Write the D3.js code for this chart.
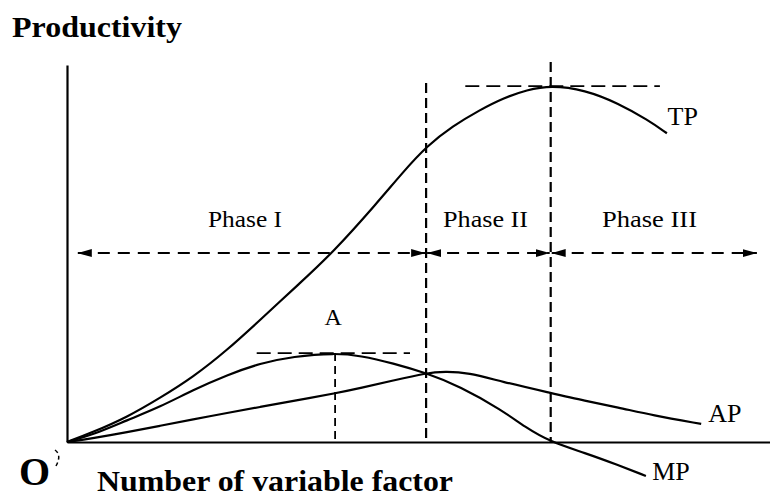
<!DOCTYPE html>
<html><head><meta charset="utf-8">
<script src="https://cdn.jsdelivr.net/npm/d3@7"></script>
<style>
html,body{margin:0;padding:0;background:#fff;}
svg{display:block;}
text{font-family:"Liberation Serif","Times New Roman",serif;fill:#000;}
</style></head>
<body>
<svg id="c" width="770" height="497"></svg>
<script>
// ---- data (x = units of variable factor, y = productivity) ----
const tpX = [0, 0.37, 0.86, 1.33, 1.80, 2.29, 2.76, 3.33, 3.79, 4.43, 4.80, 5.14, 5.51, 5.90, 6.23, 6.57, 6.91, 7.40, 7.87, 8.30, 8.57];
const tpY = [0, 2.6, 6.6, 11.7, 17.2, 24.4, 32.4, 42.2, 50.1, 63.4, 71.6, 78.5, 83.8, 88.1, 91.2, 93.4, 94.6, 93.4, 89.9, 85.4, 81.9];

const mpX = [0, 0.37, 0.86, 1.33, 1.80, 2.29, 2.76, 3.23, 3.83, 4.19, 4.66, 5.13, 5.61, 6.21, 6.54, 6.91, 7.40, 7.87, 8.27];
const mpY = [0, 1.9, 5.8, 9.3, 13.8, 17.8, 20.9, 22.7, 23.6, 22.9, 20.9, 18.3, 14.8, 8.5, 4.0, 0, -2.9, -6.1, -9.0];

const apX = [0, 0.37, 0.86, 1.33, 1.80, 2.29, 2.76, 3.23, 3.86, 4.19, 4.66, 5.13, 5.40, 5.73, 6.21, 6.91, 7.40, 7.87, 8.36, 9.06];
const apY = [0, 1.0, 2.6, 4.3, 6.0, 7.7, 9.3, 10.9, 13.0, 14.3, 16.3, 18.3, 18.7, 18.4, 16.0, 13.0, 10.9, 9.2, 7.1, 4.8];

const curveLabels = ["TP", "AP", "MP"];
const phaseLabels = ["Phase I", "Phase II", "Phase III"];
const pointLabel = "A";
const yTitle = "Productivity";
const xTitle = "Number of variable factor";
const originLabel = "O";

// key x positions: A (MP max), AP max (= MP), TP max (MP = 0)
const xA = 3.83, xAPmax = 5.13, xTPmax = 6.91;
const phaseBounds = [0.14, xAPmax, xTPmax, 9.87];
const phaseLevel = 50.1;

// ---- drawing ----
const svg = d3.select("#c");
const x = d3.scaleLinear().domain([0, 10]).range([67, 767]);
const y = d3.scaleLinear().domain([0, 100]).range([442, 65]);

const defs = svg.append("defs");
function marker(id, dir){
  const m = defs.append("marker").attr("id", id)
    .attr("viewBox","0 0 14 10").attr("refX", dir>0?14:0).attr("refY",5)
    .attr("markerWidth",14).attr("markerHeight",10).attr("markerUnits","userSpaceOnUse")
    .attr("orient","0");
  m.append("path").attr("d", dir>0 ? "M0,1 L14,5 L0,9 Z" : "M14,1 L0,5 L14,9 Z").attr("fill","#000");
}
marker("arR", 1); marker("arL", -1);

// axes
const yAxis = d3.axisLeft(y).tickValues([]).tickSizeOuter(0);
svg.append("g").attr("transform",`translate(${x(0)},0)`).call(yAxis)
  .select(".domain").attr("stroke","#000").attr("stroke-width",2.2);
const xAxisScale = x.copy().domain([0, 10.05]).range([x(0), 770]);
const xAxis = d3.axisBottom(xAxisScale).tickValues([]).tickSizeOuter(0);
svg.append("g").attr("transform",`translate(0,${y(0)})`).call(xAxis)
  .select(".domain").attr("stroke","#000").attr("stroke-width",2.2);

const dash = (sel, w, da) => sel.attr("stroke","#000").attr("stroke-width",w).attr("stroke-dasharray",da).attr("fill","none");

// vertical phase boundaries
svg.append("line").attr("x1",x(xAPmax)).attr("x2",x(xAPmax)).attr("y1",y(95.2)).attr("y2",y(0)).call(dash,2.2,"10,5");
svg.append("line").attr("x1",x(xTPmax)).attr("x2",x(xTPmax)).attr("y1",y(100.8)).attr("y2",y(0)).call(dash,2.2,"10,5");
// horizontal at TP max
svg.append("line").attr("x1",x(5.69)).attr("x2",x(8.47)).attr("y1",y(94.4)).attr("y2",y(94.4)).call(dash,1.8,"14,7");
// A guides
svg.append("line").attr("x1",x(2.71)).attr("x2",x(4.9)).attr("y1",y(23.6)).attr("y2",y(23.6)).call(dash,1.8,"14,7");
svg.append("line").attr("x1",x(xA)).attr("x2",x(xA)).attr("y1",y(23.6)).attr("y2",y(0)).call(dash,1.8,"8,5");

// phase arrows
for (let i = 0; i < 3; i++){
  svg.append("line").attr("x1",x(phaseBounds[i])+1).attr("x2",x(phaseBounds[i+1])-1)
    .attr("y1",y(phaseLevel)).attr("y2",y(phaseLevel)).call(dash,2,"12,8")
    .attr("marker-start","url(#arL)").attr("marker-end","url(#arR)");
}

// curves
const line = d3.line().x(d=>x(d[0])).y(d=>y(d[1])).curve(d3.curveBasis);
const series = [[tpX,tpY],[apX,apY],[mpX,mpY]];
series.forEach(([xs,ys]) => {
  svg.append("path").datum(xs.map((v,i)=>[v,ys[i]])).attr("d",line)
    .attr("fill","none").attr("stroke","#000").attr("stroke-width",2.2);
});

// labels
svg.append("text").attr("x",x(8.58)).attr("y",125).attr("font-size",26).text(curveLabels[0]);
svg.append("text").attr("x",x(9.16)).attr("y",422).attr("font-size",26).text(curveLabels[1]);
svg.append("text").attr("x",x(8.36)).attr("y",480).attr("font-size",26).text(curveLabels[2]);
svg.append("text").attr("x",x(xA)-2).attr("y",325).attr("font-size",24).attr("text-anchor","middle").text(pointLabel);

const phaseX = [208, 443, 602];
const phaseW = [74, 85, 95];
phaseLabels.forEach((t,i)=>{
  svg.append("text").attr("x",phaseX[i]).attr("y",227).attr("font-size",24)
    .attr("textLength",phaseW[i]).attr("lengthAdjust","spacingAndGlyphs").text(t);
});

svg.append("text").attr("x",12).attr("y",37).attr("font-size",29).attr("font-weight","bold")
  .attr("textLength",170).attr("lengthAdjust","spacingAndGlyphs").text(yTitle);
svg.append("text").attr("x",97).attr("y",491).attr("font-size",29).attr("font-weight","bold")
  .attr("textLength",356).attr("lengthAdjust","spacingAndGlyphs").text(xTitle);
svg.append("text").attr("x",19).attr("y",485).attr("font-size",40).attr("font-weight","bold").text(originLabel);
// small tick mark beside O
svg.append("path").attr("d","M55,450 Q62,455 56,466").attr("fill","none").attr("stroke","#000")
  .attr("stroke-width",1.5).attr("stroke-dasharray","4,3");
</script>
</body></html>
